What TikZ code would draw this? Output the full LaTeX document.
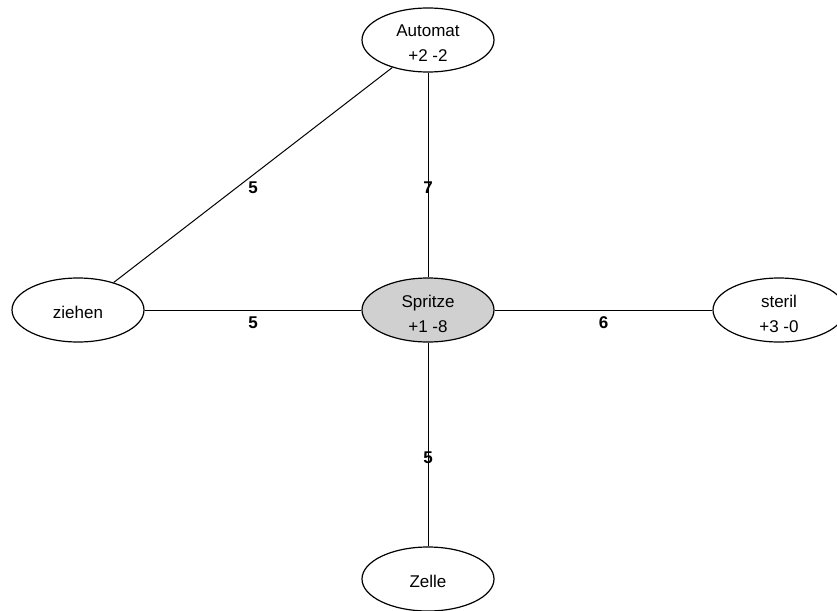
\documentclass[tikz,border=0pt]{standalone}
\usepackage{fontspec}
\setmainfont{Liberation Sans}
\usetikzlibrary{shapes.geometric}
\definecolor{corefill}{RGB}{208,208,208}
\begin{document}
\begin{tikzpicture}[x=1pt,y=-1pt,
  concept/.style={ellipse,draw,line width=1.2pt,minimum width=132pt,minimum height=64pt,
    inner sep=0pt,align=center,font=\fontsize{17}{25}\selectfont},
  twoline/.style={text height=44pt,text depth=0pt},
  oneline/.style={text height=16pt,text depth=0pt},
  core/.style={concept,fill=corefill},
  link/.style={line width=1pt},
  weight/.style={font=\fontsize{17}{20}\selectfont\bfseries,yshift=-13pt,inner sep=0pt}]
\useasboundingbox (0,0) rectangle (837,610);

% concept nodes
\node[core,twoline]    (spritze) at (428,310) {Spritze\\+1 -8};
\node[concept,twoline] (automat) at (428,40)  {Automat\\+2 -2};
\node[concept,oneline] (ziehen)  at (78,310)  {ziehen};
\node[concept,twoline] (steril)  at (779,310) {steril\\+3 -0};
\node[concept,oneline] (zelle)   at (428,579) {Zelle};

% weighted links
\draw[link] (automat) -- node[weight] {5} (ziehen);
\draw[link] (automat) -- node[weight] {7} (spritze);
\draw[link] (ziehen)  -- node[weight] {5} (spritze);
\draw[link] (spritze) -- node[weight] {6} (steril);
\draw[link] (spritze) -- node[weight] {5} (zelle);
\end{tikzpicture}
\end{document}
